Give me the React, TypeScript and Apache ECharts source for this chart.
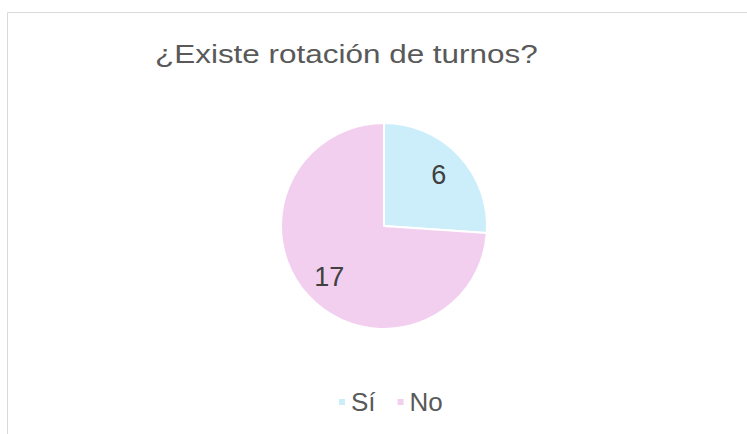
import React, { useEffect, useRef } from "react";
import * as echarts from "echarts";

const titleText = "¿Existe rotación de turnos?";
const categories = ["Sí", "No"];
const values = [6, 17];
const colors = ["#CCEEFA", "#F2CFEE"];

export default function App() {
  const ref = useRef<HTMLDivElement>(null);
  useEffect(() => {
    const chart = echarts.init(ref.current!, null, { renderer: "svg" });
    const data = categories.map((name, i) => ({
      name,
      value: values[i],
      itemStyle: { color: colors[i] },
    }));
    chart.setOption({
      animation: false,
      backgroundColor: "#FFFFFF",
      textStyle: { fontFamily: "Liberation Sans" },
      graphic: [
        {
          type: "rect",
          shape: { x: 7.5, y: 12.5, width: 800, height: 600 },
          style: { fill: "none", stroke: "#D9D9D9", lineWidth: 1 },
          silent: true,
        },
        {
          type: "text",
          x: 155,
          y: 41,
          scaleX: 1.21,
          style: {
            text: titleText,
            fontFamily: "Liberation Sans",
            fontSize: 26,
            fill: "#595959",
            verticalAlign: "top",
          },
        },
      ],
      legend: {
        data: categories,
        left: 332,
        top: 384,
        icon: "rect",
        itemWidth: 8,
        itemHeight: 8,
        itemGap: 20,
        textStyle: { fontSize: 26, color: "#595959", fontFamily: "Liberation Sans" },
      },
      series: [
        {
          type: "pie",
          center: [384, 226],
          radius: [0, 103],
          startAngle: 90,
          clockwise: true,
          data,
          label: { show: false },
          labelLine: { show: false },
          itemStyle: { borderColor: "#FFFFFF", borderWidth: 2 },
          emphasis: { disabled: true },
        },
        {
          type: "pie",
          center: [384, 226],
          radius: [41, 103],
          startAngle: 90,
          clockwise: true,
          silent: true,
          data: categories.map((name, i) => ({ name, value: values[i] })),
          itemStyle: { color: "rgba(0,0,0,0)" },
          label: {
            show: true,
            position: "inside",
            formatter: "{c}",
            fontSize: 27,
            color: "#404040",
            fontFamily: "Liberation Sans",
          },
          labelLine: { show: false },
          emphasis: { disabled: true },
        },
      ],
    });
    return () => chart.dispose();
  }, []);
  return (
    <div
      ref={ref}
      style={{ position: "fixed", left: 0, top: 0, width: 747, height: 434 }}
    />
  );
}
